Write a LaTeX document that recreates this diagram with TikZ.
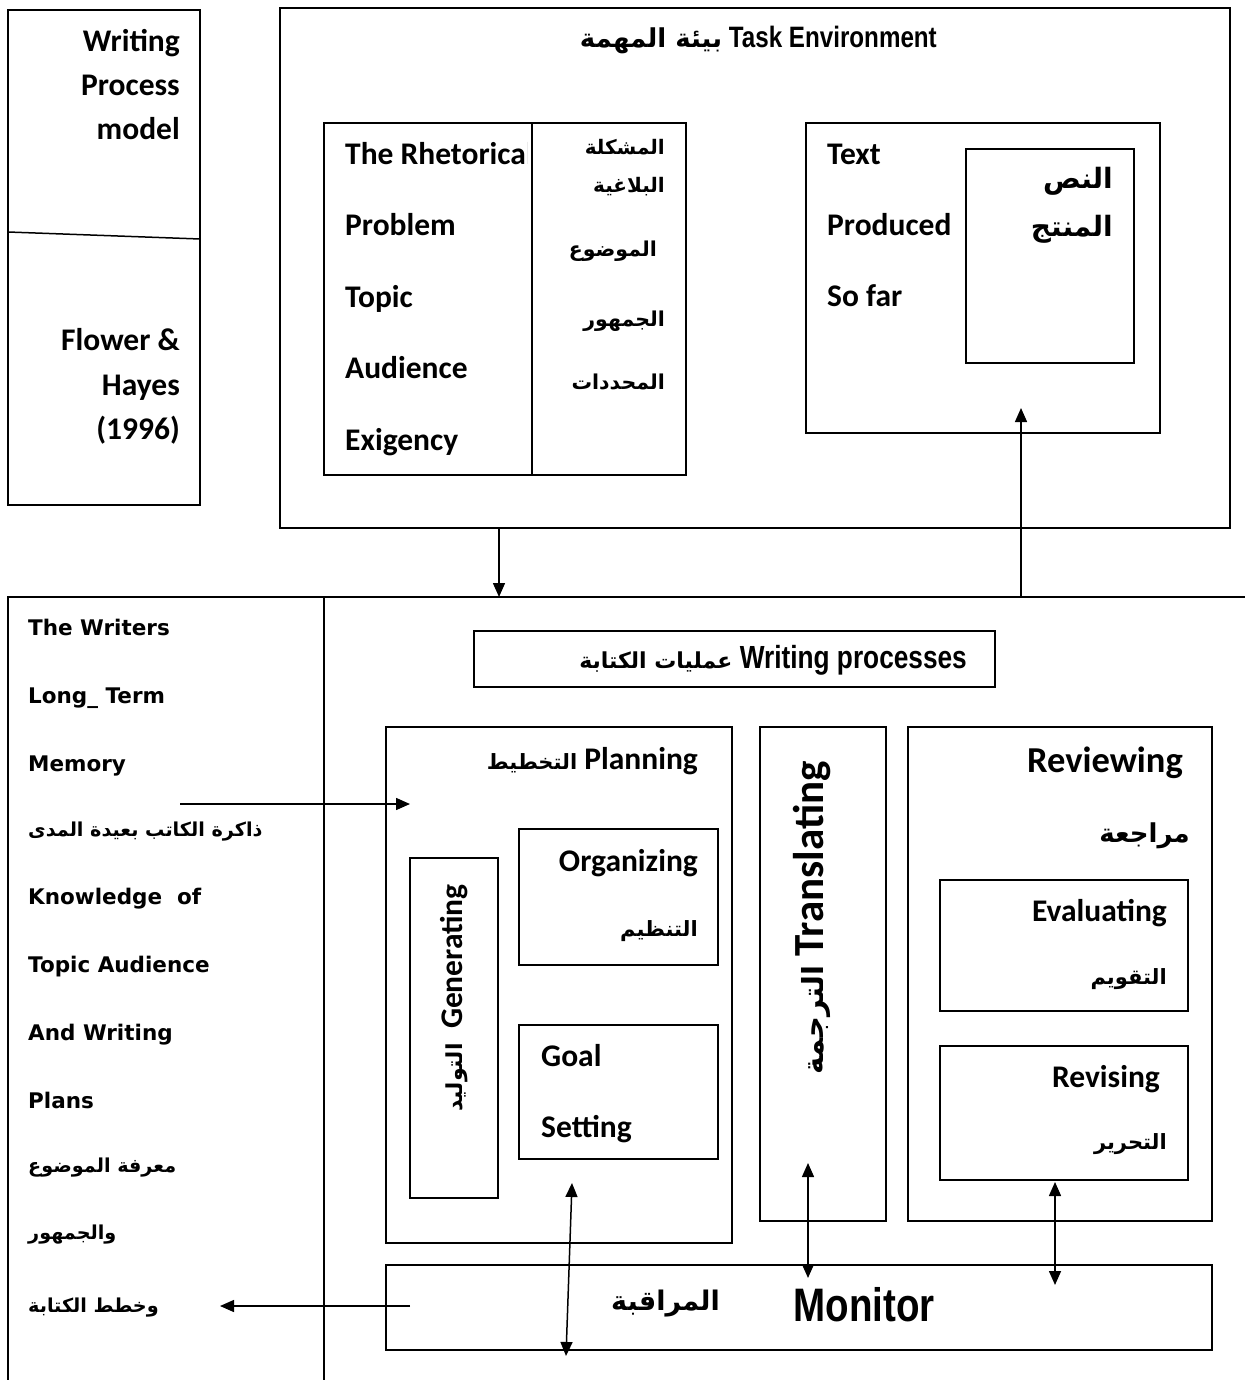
\documentclass[tikz,border=0pt]{standalone}
\usepackage{fontspec}
\setmainfont{Carlito}
\newfontfamily\ltmfont{DejaVu Sans}
\newfontfamily\narrowfont[FakeStretch=0.82]{Liberation Sans Bold}
\newfontfamily\arabicfont[Script=Arabic]{DejaVu Sans}
\TeXXeTstate=1
\usetikzlibrary{arrows.meta}
% Arabic run, bold, right to left, at a given size
\newcommand{\artxt}[2][21]{{\arabicfont\bfseries\fontsize{#1}{#1}\selectfont\beginR #2\endR}}

\begin{document}
\begin{tikzpicture}[x=1pt,y=-1pt,
  box/.style={draw, line width=1.5pt, inner sep=0pt, outer sep=0pt, anchor=north west},
  fnt/.style={inner sep=0pt, font=\bfseries\fontsize{31.5}{36}\selectfont},
  en/.style={fnt, yshift=-7pt},
  ar/.style={inner sep=0pt, yshift=-4pt},
  ltm/.style={inner sep=0pt, anchor=mid west, yshift=-6pt, font=\ltmfont\bfseries\fontsize{21.5}{26}\selectfont},
  narrow/.style={inner sep=0pt, font=\narrowfont\fontsize{#1}{#1}\selectfont},
  arr/.style={line width=1.5pt, -{Triangle[length=14pt,width=12pt]}},
  darr/.style={line width=1.5pt, {Triangle[length=14pt,width=12pt]}-{Triangle[length=14pt,width=12pt]}}]

\useasboundingbox (0,0) rectangle (1244,1380);

% --- model name and authors
\node[box, minimum width=192pt, minimum height=495pt] (meta) at (8,10) {};
\draw[line width=1.5pt] (8,232) -- (200,239);
\node[en, anchor=mid east] (m1) at (180,42) {Writing};
\node[en, anchor=mid east] (m2) at (180,86) {Process};
\node[en, anchor=mid east] (m3) at (180,130) {model};
\node[en, anchor=mid east] (m4) at (180,341) {Flower \&};
\node[en, anchor=mid east] (m5) at (180,386) {Hayes};
\node[en, anchor=mid east] (m6) at (180,430) {(1996)};

% --- task environment
\node[box, minimum width=950pt, minimum height=520pt] (te) at (280,8) {};
\node[narrow=29.5, anchor=mid east, yshift=-4pt] (tetitle) at (937,41) {\artxt[26]{بيئة المهمة}\ Task Environment};

% rhetorical problem
\node[box, minimum width=362pt, minimum height=352pt] (rhet) at (324,123) {};
\begin{scope}
  \clip (324,123) rectangle (527,475);
  \node[en, anchor=mid west] (r1) at (345,155) {The Rhetorical};
\end{scope}
\draw[line width=1.5pt] (532,123) -- (532,475);
\node[en, anchor=mid west] (r2) at (345,226) {Problem};
\node[en, anchor=mid west] (r3) at (345,298) {Topic};
\node[en, anchor=mid west] (r4) at (345,369) {Audience};
\node[en, anchor=mid west] (r5) at (345,441) {Exigency};
\node[ar, anchor=mid east] (ra1) at (665,148) {\artxt[20]{المشكلة}};
\node[ar, anchor=mid east] (ra2) at (665,186) {\artxt[20]{البلاغية}};
\node[ar, anchor=mid east] (ra3) at (657,250) {\artxt[20.5]{الموضوع}};
\node[ar, anchor=mid east] (ra4) at (665,320) {\artxt[20.5]{الجمهور}};
\node[ar, anchor=mid east] (ra5) at (665,383) {\artxt[20.5]{المحددات}};

% text produced so far
\node[box, minimum width=354pt, minimum height=310pt] (tps) at (806,123) {};
\node[box, minimum width=168pt, minimum height=214pt] (tpsin) at (966,149) {};
\node[en, anchor=mid west] (t1) at (827,155) {Text};
\node[en, anchor=mid west] (t2) at (827,226) {Produced};
\node[en, anchor=mid west] (t3) at (827,297) {So far};
\node[ar, anchor=mid east] (ta1) at (1113,182) {\artxt[28]{النص}};
\node[ar, anchor=mid east] (ta2) at (1113,230) {\artxt[28]{المنتج}};

% --- long-term memory column
\node[box, minimum width=316pt, minimum height=810pt] (mem) at (8,597) {};
\draw[line width=1.5pt] (mem.north east) -- (1250,597);
\node[ltm] (l1) at (28,627) {The Writers};
\node[ltm] (l2) at (28,695) {Long\_ Term};
\node[ltm] (l3) at (28,763) {Memory};
\node[ltm, yshift=2pt] (l4) at (28,830) {\artxt[19.2]{ذاكرة الكاتب بعيدة المدى}};
\node[ltm] (l5) at (28,896) {Knowledge\ \ of};
\node[ltm] (l6) at (28,964) {Topic Audience};
\node[ltm] (l7) at (28,1032) {And Writing};
\node[ltm] (l8) at (28,1100) {Plans};
\node[ltm, yshift=2pt] (l9) at (28,1166) {\artxt[19.2]{معرفة الموضوع}};
\node[ltm, yshift=2pt] (l10) at (28,1233) {\artxt[19.2]{والجمهور}};
\node[ltm, yshift=2pt] (l11) at (28,1306) {\artxt[19.2]{وخطط الكتابة}};

% --- writing processes
\node[box, minimum width=521pt, minimum height=56pt] (wp) at (474,631) {};
\node[narrow=32, anchor=mid east, yshift=-4pt] (wptitle) at (967,662) {\artxt[22]{عمليات الكتابة}\ Writing processes};

% planning
\node[box, minimum width=346pt, minimum height=516pt] (plan) at (386,727) {};
\node[en, anchor=mid east] (pl) at (698,760) {\artxt[21]{التخطيط} Planning};
\node[box, minimum width=88pt, minimum height=340pt] (gen) at (410,858) {};
\node[fnt, rotate=90] (gent) at (454,998) {\artxt[22]{التوليد}\ \ Generating};
\node[box, minimum width=199pt, minimum height=136pt] (org) at (519,829) {};
\node[en, anchor=mid east] (o1) at (698,862) {Organizing};
\node[ar, anchor=mid east] (o2) at (698,930) {\artxt[21]{التنظيم}};
\node[box, minimum width=199pt, minimum height=134pt] (goal) at (519,1025) {};
\node[en, anchor=mid west] (g1) at (541,1057) {Goal};
\node[en, anchor=mid west] (g2) at (541,1128) {Setting};

% translating
\node[box, minimum width=126pt, minimum height=494pt] (trans) at (760,727) {};
\node[fnt, rotate=90, font=\bfseries\fontsize{43}{46}\selectfont] (trt) at (812,918) {\artxt[29]{الترجمة} Translating};

% reviewing
\node[box, minimum width=304pt, minimum height=494pt] (rev) at (908,727) {};
\node[en, anchor=mid east, font=\bfseries\fontsize{36.5}{40}\selectfont] (rv1) at (1183,763) {Reviewing};
\node[ar, anchor=mid east] (rv2) at (1190,836) {\artxt[26]{مراجعة}};
\node[box, minimum width=248pt, minimum height=131pt] (eval) at (940,880) {};
\node[en, anchor=mid east] (e1) at (1167,912) {Evaluating};
\node[ar, anchor=mid east] (e2) at (1167,978) {\artxt[21]{التقويم}};
\node[box, minimum width=248pt, minimum height=134pt] (revis) at (940,1046) {};
\node[en, anchor=mid east] (rs1) at (1160,1078) {Revising};
\node[ar, anchor=mid east] (rs2) at (1167,1143) {\artxt[21]{التحرير}};

% monitor
\node[box, minimum width=826pt, minimum height=85pt] (mon) at (386,1265) {};
\node[narrow=47] (mont) at (864,1305) {Monitor};
\node[ar, anchor=mid east, yshift=-4pt] (mona) at (720,1300) {\artxt[27]{المراقبة}};

% --- connectors
\coordinate (downx) at (499,0);
\coordinate (upx) at (1021,0);
\coordinate (uptip) at (1021,408);
\draw[arr] (te.south -| downx) -- (mem.north -| downx);
\draw[arr] (mem.north -| upx) -- (uptip);

\coordinate (memout) at (180,804);
\coordinate (planin) at (410,804);
\draw[arr] (memout) -- (planin);
\coordinate (monout) at (410,1306);
\coordinate (memin) at (220,1306);
\draw[arr] (monout) -- (memin);

\coordinate (p1) at (572,1183);
\coordinate (p2) at (566,1356);
\draw[darr] (p1) -- (p2);
\coordinate (q1) at (808,1163);
\coordinate (q2) at (808,1278);
\draw[darr] (q1) -- (q2);
\coordinate (s1) at (1055,1182);
\coordinate (s2) at (1055,1285);
\draw[darr] (s1) -- (s2);
\end{tikzpicture}
\end{document}
